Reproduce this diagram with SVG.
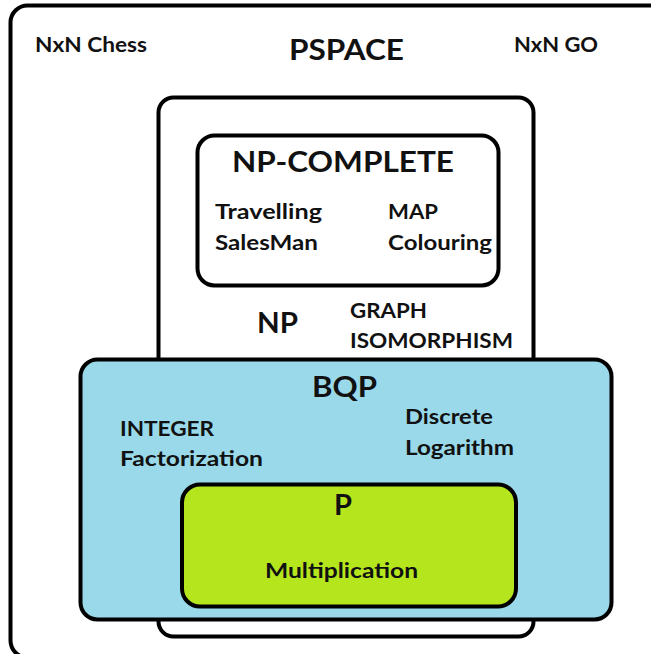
<svg xmlns="http://www.w3.org/2000/svg" width="651" height="654" viewBox="0 0 651 654">
  <style>
    .box { stroke: #000; stroke-width: 4; }
    .lbl { font-family: Lato, "Open Sans", "Liberation Sans", sans-serif; font-weight: bold; fill: #111; }
    .big { font-size: 28px; }
    .sm { font-size: 20px; }
    .md { font-size: 21.5px; }
  </style>
  <rect width="651" height="654" fill="#fff"/>

  <!-- PSPACE: outermost class, runs past the right and bottom edges -->
  <g id="pspace">
    <rect class="box" x="10.5" y="5.5" width="656" height="652" rx="17" fill="#fff"/>
    <text class="lbl big" x="289" y="60" textLength="115" lengthAdjust="spacingAndGlyphs">PSPACE</text>
    <text class="lbl sm" x="35" y="52" textLength="112" lengthAdjust="spacingAndGlyphs">NxN Chess</text>
    <text class="lbl sm" x="514" y="52" textLength="84" lengthAdjust="spacingAndGlyphs">NxN GO</text>
  </g>

  <!-- NP -->
  <g id="np">
    <rect class="box" x="158.5" y="97.5" width="375" height="539" rx="15" fill="#fff"/>
    <text class="lbl big" x="257" y="333" textLength="41" lengthAdjust="spacingAndGlyphs">NP</text>
    <text class="lbl sm" x="350" y="318" textLength="77" lengthAdjust="spacingAndGlyphs">GRAPH</text>
    <text class="lbl sm" x="350" y="348" textLength="163" lengthAdjust="spacingAndGlyphs">ISOMORPHISM</text>
  </g>

  <!-- NP-complete -->
  <g id="np-complete">
    <rect class="box" x="197.5" y="135.5" width="301" height="150" rx="17" fill="#fff"/>
    <text class="lbl big" x="232" y="172" textLength="222" lengthAdjust="spacingAndGlyphs">NP-COMPLETE</text>
    <text class="lbl sm" x="215" y="219" textLength="107" lengthAdjust="spacingAndGlyphs">Travelling</text>
    <text class="lbl sm" x="215" y="250" textLength="103" lengthAdjust="spacingAndGlyphs">SalesMan</text>
    <text class="lbl sm" x="388" y="219" textLength="50" lengthAdjust="spacingAndGlyphs">MAP</text>
    <text class="lbl sm" x="388" y="250" textLength="104" lengthAdjust="spacingAndGlyphs">Colouring</text>
  </g>

  <!-- BQP -->
  <g id="bqp">
    <rect class="box" x="80.5" y="359.5" width="531" height="260" rx="17" fill="#99d9ea"/>
    <text class="lbl big" x="312" y="397" font-size="30" textLength="65" lengthAdjust="spacingAndGlyphs">BQP</text>
    <text class="lbl md" x="120" y="436" textLength="94" lengthAdjust="spacingAndGlyphs">INTEGER</text>
    <text class="lbl md" x="120" y="466" textLength="143" lengthAdjust="spacingAndGlyphs">Factorization</text>
    <text class="lbl md" x="405" y="424" textLength="88" lengthAdjust="spacingAndGlyphs">Discrete</text>
    <text class="lbl md" x="405" y="455" textLength="109" lengthAdjust="spacingAndGlyphs">Logarithm</text>
  </g>

  <!-- P -->
  <g id="p">
    <rect class="box" x="182" y="484.5" width="334" height="122" rx="18" fill="#b5e61d"/>
    <text class="lbl big" x="334" y="515" textLength="18" lengthAdjust="spacingAndGlyphs">P</text>
    <text class="lbl md" x="265" y="578" textLength="153" lengthAdjust="spacingAndGlyphs">Multiplication</text>
  </g>

  <!-- nested sets only; no connectors -->
  <g id="connectors"/>
</svg>
